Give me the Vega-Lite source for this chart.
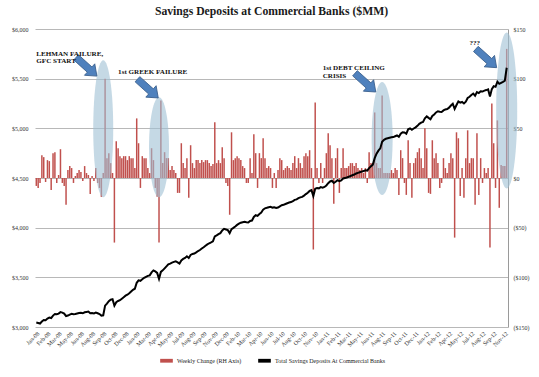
{
"$schema": "https://vega.github.io/schema/vega-lite/v6.json",
"width": 473, "height": 298,
"autosize": {"type": "none"},
"padding": {"left": 35, "top": 29, "right": 31, "bottom": 50},
"background": "white",
"title": {"text": "Savings Deposits at Commercial Banks ($MM)", "font": "Liberation Serif", "fontSize": 11.7, "fontWeight": "bold", "color": "#1a1a1a", "anchor": "middle", "frame": "group", "offset": 8},
"datasets": {
"w": [
{"d":"2008-01-07","c":-8,"t":3045},{"d":"2008-01-14","c":-10,"t":3040},{"d":"2008-01-21","c":-5,"t":3035},{"d":"2008-01-28","c":23,"t":3055},
{"d":"2008-02-04","c":21,"t":3070},{"d":"2008-02-11","c":-4,"t":3068},{"d":"2008-02-18","c":18,"t":3085},{"d":"2008-02-25","c":17,"t":3095},
{"d":"2008-03-03","c":-12,"t":3090},{"d":"2008-03-10","c":25,"t":3115},{"d":"2008-03-17","c":26,"t":3130},{"d":"2008-03-24","c":-5,"t":3128},{"d":"2008-03-31","c":3,"t":3135},
{"d":"2008-04-07","c":29,"t":3150},{"d":"2008-04-14","c":-5,"t":3145},{"d":"2008-04-21","c":-8,"t":3135},{"d":"2008-04-28","c":-27,"t":3110},
{"d":"2008-05-05","c":8,"t":3115},{"d":"2008-05-12","c":12,"t":3125},{"d":"2008-05-19","c":10,"t":3132},{"d":"2008-05-26","c":-5,"t":3128},
{"d":"2008-06-02","c":2,"t":3130},{"d":"2008-06-09","c":5,"t":3135},{"d":"2008-06-16","c":8,"t":3140},{"d":"2008-06-23","c":6,"t":3143},{"d":"2008-06-30","c":-3,"t":3138},
{"d":"2008-07-07","c":12,"t":3148},{"d":"2008-07-14","c":5,"t":3152},{"d":"2008-07-21","c":3,"t":3155},{"d":"2008-07-28","c":-16,"t":3138},
{"d":"2008-08-04","c":2,"t":3140},{"d":"2008-08-11","c":-3,"t":3137},{"d":"2008-08-18","c":10,"t":3145},{"d":"2008-08-25","c":-5,"t":3138},
{"d":"2008-09-01","c":-10,"t":3130},{"d":"2008-09-08","c":-19,"t":3115},{"d":"2008-09-15","c":5,"t":3118},{"d":"2008-09-22","c":100,"t":3215},{"d":"2008-09-29","c":20,"t":3235},
{"d":"2008-10-06","c":25,"t":3260},{"d":"2008-10-13","c":15,"t":3275},{"d":"2008-10-20","c":5,"t":3280},{"d":"2008-10-27","c":-65,"t":3215},
{"d":"2008-11-03","c":37,"t":3250},{"d":"2008-11-10","c":30,"t":3262},{"d":"2008-11-17","c":22,"t":3270},{"d":"2008-11-24","c":20,"t":3285},
{"d":"2008-12-01","c":22,"t":3300},{"d":"2008-12-08","c":22,"t":3315},{"d":"2008-12-15","c":18,"t":3325},{"d":"2008-12-22","c":22,"t":3340},{"d":"2008-12-29","c":20,"t":3358},
{"d":"2009-01-05","c":20,"t":3375},{"d":"2009-01-12","c":10,"t":3385},{"d":"2009-01-19","c":60,"t":3445},{"d":"2009-01-26","c":35,"t":3470},
{"d":"2009-02-02","c":-10,"t":3465},{"d":"2009-02-09","c":22,"t":3480},{"d":"2009-02-16","c":20,"t":3495},{"d":"2009-02-23","c":20,"t":3505},
{"d":"2009-03-02","c":10,"t":3515},{"d":"2009-03-09","c":5,"t":3520},{"d":"2009-03-16","c":30,"t":3550},{"d":"2009-03-23","c":18,"t":3570},{"d":"2009-03-30","c":-10,"t":3560},
{"d":"2009-04-06","c":-19,"t":3545},{"d":"2009-04-13","c":-65,"t":3485},{"d":"2009-04-20","c":78,"t":3555},{"d":"2009-04-27","c":15,"t":3570},
{"d":"2009-05-04","c":26,"t":3590},{"d":"2009-05-11","c":20,"t":3610},{"d":"2009-05-18","c":20,"t":3630},{"d":"2009-05-25","c":8,"t":3638},
{"d":"2009-06-01","c":12,"t":3648},{"d":"2009-06-08","c":8,"t":3655},{"d":"2009-06-15","c":5,"t":3662},{"d":"2009-06-22","c":-15,"t":3650},{"d":"2009-06-29","c":-15,"t":3638},
{"d":"2009-07-06","c":35,"t":3670},{"d":"2009-07-13","c":15,"t":3685},{"d":"2009-07-20","c":10,"t":3695},{"d":"2009-07-27","c":20,"t":3712},
{"d":"2009-08-03","c":-20,"t":3695},{"d":"2009-08-10","c":33,"t":3725},{"d":"2009-08-17","c":15,"t":3735},{"d":"2009-08-24","c":10,"t":3740},{"d":"2009-08-31","c":18,"t":3752},
{"d":"2009-09-07","c":18,"t":3765},{"d":"2009-09-14","c":15,"t":3775},{"d":"2009-09-21","c":18,"t":3790},{"d":"2009-09-28","c":16,"t":3803},
{"d":"2009-10-05","c":18,"t":3818},{"d":"2009-10-12","c":18,"t":3832},{"d":"2009-10-19","c":15,"t":3843},{"d":"2009-10-26","c":12,"t":3852},
{"d":"2009-11-02","c":14,"t":3862},{"d":"2009-11-09","c":56,"t":3912},{"d":"2009-11-16","c":15,"t":3922},{"d":"2009-11-23","c":18,"t":3935},{"d":"2009-11-30","c":15,"t":3945},
{"d":"2009-12-07","c":31,"t":3972},{"d":"2009-12-14","c":20,"t":3988},{"d":"2009-12-21","c":-5,"t":3982},{"d":"2009-12-28","c":-8,"t":3975},
{"d":"2010-01-04","c":-37,"t":3945},{"d":"2010-01-11","c":46,"t":3985},{"d":"2010-01-18","c":18,"t":3998},{"d":"2010-01-25","c":20,"t":4012},
{"d":"2010-02-01","c":22,"t":4028},{"d":"2010-02-08","c":20,"t":4040},{"d":"2010-02-15","c":18,"t":4050},{"d":"2010-02-22","c":12,"t":4055},
{"d":"2010-03-01","c":10,"t":4060},{"d":"2010-03-08","c":-5,"t":4055},{"d":"2010-03-15","c":-5,"t":4052},{"d":"2010-03-22","c":20,"t":4068},{"d":"2010-03-29","c":5,"t":4072},
{"d":"2010-04-05","c":44,"t":4108},{"d":"2010-04-12","c":25,"t":4125},{"d":"2010-04-19","c":-10,"t":4118},{"d":"2010-04-26","c":25,"t":4138},
{"d":"2010-05-03","c":20,"t":4152},{"d":"2010-05-10","c":40,"t":4182},{"d":"2010-05-17","c":20,"t":4195},{"d":"2010-05-24","c":10,"t":4200},{"d":"2010-05-31","c":12,"t":4206},
{"d":"2010-06-07","c":10,"t":4210},{"d":"2010-06-14","c":-10,"t":4202},{"d":"2010-06-21","c":5,"t":4205},{"d":"2010-06-28","c":-10,"t":4198},
{"d":"2010-07-05","c":8,"t":4203},{"d":"2010-07-12","c":20,"t":4215},{"d":"2010-07-19","c":18,"t":4226},{"d":"2010-07-26","c":8,"t":4230},
{"d":"2010-08-02","c":10,"t":4238},{"d":"2010-08-09","c":12,"t":4246},{"d":"2010-08-16","c":10,"t":4253},{"d":"2010-08-23","c":8,"t":4258},{"d":"2010-08-30","c":15,"t":4268},
{"d":"2010-09-06","c":22,"t":4280},{"d":"2010-09-13","c":10,"t":4285},{"d":"2010-09-20","c":20,"t":4297},{"d":"2010-09-27","c":15,"t":4305},
{"d":"2010-10-04","c":10,"t":4310},{"d":"2010-10-11","c":22,"t":4323},{"d":"2010-10-18","c":25,"t":4338},{"d":"2010-10-25","c":22,"t":4352},
{"d":"2010-11-01","c":28,"t":4370},{"d":"2010-11-08","c":10,"t":4378},{"d":"2010-11-15","c":-72,"t":4318},{"d":"2010-11-22","c":76,"t":4392},{"d":"2010-11-29","c":10,"t":4400},
{"d":"2010-12-06","c":-5,"t":4396},{"d":"2010-12-13","c":15,"t":4408},{"d":"2010-12-20","c":-5,"t":4403},{"d":"2010-12-27","c":10,"t":4410},
{"d":"2011-01-03","c":25,"t":4425},{"d":"2011-01-10","c":45,"t":4448},{"d":"2011-01-17","c":33,"t":4465},{"d":"2011-01-24","c":20,"t":4472},{"d":"2011-01-31","c":-26,"t":4450},
{"d":"2011-02-07","c":20,"t":4462},{"d":"2011-02-14","c":30,"t":4478},{"d":"2011-02-21","c":-15,"t":4468},{"d":"2011-02-28","c":10,"t":4476},
{"d":"2011-03-07","c":30,"t":4495},{"d":"2011-03-14","c":10,"t":4500},{"d":"2011-03-21","c":10,"t":4505},{"d":"2011-03-28","c":12,"t":4512},
{"d":"2011-04-04","c":15,"t":4520},{"d":"2011-04-11","c":15,"t":4528},{"d":"2011-04-18","c":12,"t":4535},{"d":"2011-04-25","c":15,"t":4545},
{"d":"2011-05-02","c":10,"t":4552},{"d":"2011-05-09","c":8,"t":4558},{"d":"2011-05-16","c":10,"t":4564},{"d":"2011-05-23","c":5,"t":4570},{"d":"2011-05-30","c":10,"t":4578},
{"d":"2011-06-06","c":-5,"t":4575},{"d":"2011-06-13","c":26,"t":4600},{"d":"2011-06-20","c":15,"t":4618},{"d":"2011-06-27","c":15,"t":4635},
{"d":"2011-07-04","c":66,"t":4700},{"d":"2011-07-11","c":15,"t":4745},{"d":"2011-07-18","c":10,"t":4775},{"d":"2011-07-25","c":10,"t":4798},
{"d":"2011-08-01","c":83,"t":4865},{"d":"2011-08-08","c":5,"t":4885},{"d":"2011-08-15","c":5,"t":4895},{"d":"2011-08-22","c":5,"t":4900},{"d":"2011-08-29","c":5,"t":4905},
{"d":"2011-09-05","c":8,"t":4910},{"d":"2011-09-12","c":5,"t":4912},{"d":"2011-09-19","c":10,"t":4920},{"d":"2011-09-26","c":8,"t":4928},
{"d":"2011-10-03","c":-17,"t":4915},{"d":"2011-10-10","c":28,"t":4945},{"d":"2011-10-17","c":20,"t":4960},{"d":"2011-10-24","c":-5,"t":4958},{"d":"2011-10-31","c":-17,"t":4945},
{"d":"2011-11-07","c":38,"t":4990},{"d":"2011-11-14","c":15,"t":5000},{"d":"2011-11-21","c":-20,"t":4985},{"d":"2011-11-28","c":15,"t":4998},
{"d":"2011-12-05","c":20,"t":5010},{"d":"2011-12-12","c":26,"t":5025},{"d":"2011-12-19","c":30,"t":5045},{"d":"2011-12-26","c":20,"t":5058},
{"d":"2012-01-02","c":10,"t":5065},{"d":"2012-01-09","c":50,"t":5100},{"d":"2012-01-16","c":30,"t":5120},{"d":"2012-01-23","c":-15,"t":5105},{"d":"2012-01-30","c":-16,"t":5092},
{"d":"2012-02-06","c":38,"t":5125},{"d":"2012-02-13","c":20,"t":5140},{"d":"2012-02-20","c":25,"t":5160},{"d":"2012-02-27","c":15,"t":5172},
{"d":"2012-03-05","c":-10,"t":5168},{"d":"2012-03-12","c":-5,"t":5165},{"d":"2012-03-19","c":20,"t":5180},{"d":"2012-03-26","c":10,"t":5190},
{"d":"2012-04-02","c":5,"t":5195},{"d":"2012-04-09","c":15,"t":5208},{"d":"2012-04-16","c":25,"t":5230},{"d":"2012-04-23","c":20,"t":5248},{"d":"2012-04-30","c":-60,"t":5195},
{"d":"2012-05-07","c":46,"t":5235},{"d":"2012-05-14","c":40,"t":5270},{"d":"2012-05-21","c":-18,"t":5258},{"d":"2012-05-28","c":10,"t":5265},
{"d":"2012-06-04","c":-20,"t":5250},{"d":"2012-06-11","c":20,"t":5268},{"d":"2012-06-18","c":48,"t":5305},{"d":"2012-06-25","c":15,"t":5318},
{"d":"2012-07-02","c":20,"t":5335},{"d":"2012-07-09","c":20,"t":5350},{"d":"2012-07-16","c":-27,"t":5328},{"d":"2012-07-23","c":45,"t":5365},{"d":"2012-07-30","c":-17,"t":5355},
{"d":"2012-08-06","c":20,"t":5372},{"d":"2012-08-13","c":-5,"t":5370},{"d":"2012-08-20","c":10,"t":5380},{"d":"2012-08-27","c":5,"t":5385},
{"d":"2012-09-03","c":10,"t":5392},{"d":"2012-09-10","c":-70,"t":5320},{"d":"2012-09-17","c":75,"t":5395},{"d":"2012-09-24","c":35,"t":5425},
{"d":"2012-10-01","c":-10,"t":5418},{"d":"2012-10-08","c":58,"t":5470},{"d":"2012-10-15","c":-30,"t":5448},{"d":"2012-10-22","c":13,"t":5458},{"d":"2012-10-29","c":12,"t":5468},
{"d":"2012-11-05","c":12,"t":5480},{"d":"2012-11-12","c":130,"t":5610}
]
},
"encoding": {
"x": {"field": "d", "type": "ordinal", "title": null,
 "scale": {"paddingInner": 0.2, "paddingOuter": 0.3},
 "axis": {"values": ["2008-01-07","2008-02-18","2008-03-31","2008-05-12","2008-06-23","2008-08-04","2008-09-15","2008-10-27","2008-12-08","2009-01-19","2009-03-02","2009-04-13","2009-05-25","2009-07-06","2009-08-17","2009-09-28","2009-11-09","2009-12-21","2010-02-01","2010-03-15","2010-04-26","2010-06-07","2010-07-19","2010-08-30","2010-10-11","2010-11-22","2011-01-03","2011-02-14","2011-03-28","2011-05-09","2011-06-20","2011-08-01","2011-09-12","2011-10-24","2011-12-05","2012-01-16","2012-02-27","2012-04-09","2012-05-21","2012-07-02","2012-08-13","2012-09-24","2012-11-05"],
  "labelExpr": "utcFormat(toDate(datum.value), '%b-%y')",
  "labelAngle": -45, "domain": false, "ticks": false, "grid": false, "labelPadding": 3, "labelOverlap": false,
  "labelFont": "Liberation Serif", "labelFontSize": 6, "labelColor": "#333333"}}
},
"layer": [
 {
  "data": {"name": "w"},
  "mark": {"type": "bar"},
  "encoding": {
   "y": {"field": "c", "type": "quantitative", "title": null,
    "scale": {"domain": [-150, 150], "nice": false},
    "axis": {"orient": "right", "values": [-150, -100, -50, 0, 50, 100, 150],
     "labelExpr": "datum.value < 0 ? '($' + (-datum.value) + ')' : '$' + datum.value",
     "grid": false, "domain": true, "domainColor": "#9a9a9a", "ticks": false, "labelPadding": 5,
     "labelFont": "Liberation Serif", "labelFontSize": 6, "labelColor": "#333333"}},
   "color": {"datum": "Weekly Change (RH Axis)", "type": "nominal",
    "scale": {"domain": ["Weekly Change (RH Axis)", "Total Savings Deposits At Commercial Banks"], "range": ["#c0504d", "#000000"]},
    "legend": {"orient": "none", "legendX": 125, "legendY": 325, "direction": "horizontal", "title": null,
     "labelFont": "Liberation Serif", "labelFontSize": 6, "labelColor": "#222222",
     "symbolType": "M-1,-0.3H1V0.3H-1Z", "symbolSize": 160, "symbolStrokeWidth": 0, "columnPadding": 16}}
  }
 },
 {
  "layer": [
   {
    "data": {"values": [{"d": "2008-09-15", "v": 4995}]},
    "mark": {"type": "point", "filled": true, "color": "#9fc0d4", "opacity": 0.6, "size": 18769,
     "shape": "M0,-1C0.0806,-1,0.146,-0.5523,0.146,0C0.146,0.5523,0.0806,1,0,1C-0.0806,1,-0.146,0.5523,-0.146,0C-0.146,-0.5523,-0.0806,-1,0,-1Z"},
    "encoding": {"y": {"field": "v", "type": "quantitative", "title": null, "scale": {"domain": [3000, 6000], "zero": false, "nice": false}}}
   },
   {
    "data": {"values": [{"d": "2009-04-13", "v": 4810}]},
    "mark": {"type": "point", "filled": true, "color": "#9fc0d4", "opacity": 0.6, "size": 10000,
     "shape": "M0,-1C0.1105,-1,0.2,-0.5523,0.2,0C0.2,0.5523,0.1105,1,0,1C-0.1105,1,-0.2,0.5523,-0.2,0C-0.2,-0.5523,-0.1105,-1,0,-1Z"},
    "encoding": {"y": {"field": "v", "type": "quantitative", "title": null, "scale": {"domain": [3000, 6000], "zero": false, "nice": false}}}
   },
   {
    "data": {"values": [{"d": "2011-08-01", "v": 4897}]},
    "mark": {"type": "point", "filled": true, "color": "#9fc0d4", "opacity": 0.6, "size": 12769,
     "shape": "M0,-1C0.1027,-1,0.186,-0.5523,0.186,0C0.186,0.5523,0.1027,1,0,1C-0.1027,1,-0.186,0.5523,-0.186,0C-0.186,-0.5523,-0.1027,-1,0,-1Z"},
    "encoding": {"y": {"field": "v", "type": "quantitative", "title": null, "scale": {"domain": [3000, 6000], "zero": false, "nice": false}}}
   },
   {
    "data": {"values": [{"d": "2012-11-12", "v": 5180}]},
    "mark": {"type": "point", "filled": true, "color": "#9fc0d4", "opacity": 0.6, "size": 24336,
     "shape": "M0,-1C0.0746,-1,0.135,-0.5523,0.135,0C0.135,0.5523,0.0746,1,0,1C-0.0746,1,-0.135,0.5523,-0.135,0C-0.135,-0.5523,-0.0746,-1,0,-1Z"},
    "encoding": {"y": {"field": "v", "type": "quantitative", "title": null, "scale": {"domain": [3000, 6000], "zero": false, "nice": false}}}
   },
   {
    "data": {"name": "w"},
    "mark": {"type": "line", "strokeWidth": 2},
    "encoding": {
     "y": {"field": "t", "type": "quantitative", "title": null,
      "scale": {"domain": [3000, 6000], "zero": false, "nice": false},
      "axis": {"orient": "left", "values": [3000, 3500, 4000, 4500, 5000, 5500, 6000], "format": "$,d",
       "grid": true, "gridColor": "#b8b8b8", "gridWidth": 1, "domain": false, "ticks": false, "labelPadding": 7,
       "labelFont": "Liberation Serif", "labelFontSize": 6, "labelColor": "#333333"}},
     "color": {"datum": "Total Savings Deposits At Commercial Banks", "type": "nominal"}
    }
   },
   {
    "data": {"values": [{"d": "2008-07-14", "v": 5620}, {"d": "2009-03-02", "v": 5400}, {"d": "2011-05-30", "v": 5460}, {"d": "2012-08-27", "v": 5705}]},
    "mark": {"type": "point", "filled": true, "color": "#4f81bd", "stroke": "#385d8a", "strokeWidth": 0.8, "opacity": 1, "size": 784, "angle": 42,
     "shape": "M-1,-0.25L0.3,-0.25L0.3,-0.55L1,0L0.3,0.55L0.3,0.25L-1,0.25Z"},
    "encoding": {"y": {"field": "v", "type": "quantitative", "title": null, "scale": {"domain": [3000, 6000], "zero": false, "nice": false}}}
   },
   {
    "data": {"values": [
     {"d": "2008-01-07", "v": 5752, "lab": "LEHMAN FAILURE,\nGFC START"},
     {"d": "2008-11-10", "v": 5565, "lab": "1st GREEK FAILURE"},
     {"d": "2010-12-20", "v": 5608, "lab": "1st DEBT CEILING\nCRISIS"},
     {"d": "2012-06-25", "v": 5863, "lab": "???"}]},
    "mark": {"type": "text", "align": "left", "baseline": "middle", "lineBreak": "\n", "lineHeight": 7.6, "font": "Liberation Serif", "fontWeight": "bold", "fontSize": 7.1, "color": "#111111"},
    "encoding": {
     "y": {"field": "v", "type": "quantitative", "title": null, "scale": {"domain": [3000, 6000], "zero": false, "nice": false}},
     "text": {"field": "lab", "type": "nominal"}
    }
   }
  ]
 }
],
"resolve": {"scale": {"y": "independent"}},
"config": {"view": {"stroke": null}, "font": "Liberation Serif"}
}
